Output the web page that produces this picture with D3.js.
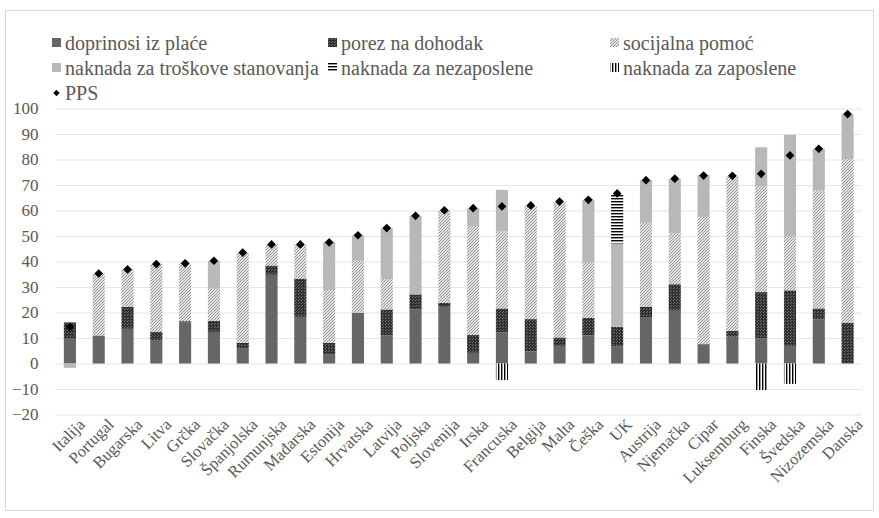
<!DOCTYPE html>
<html>
<head>
<meta charset="utf-8">
<script src="https://cdn.jsdelivr.net/npm/d3@7"></script>
<style>
  html, body { margin: 0; padding: 0; background: #fff; }
  svg { display: block; }
  svg text { font-family: "Liberation Serif", "Times New Roman", Tinos, "Noto Serif", "DejaVu Serif", serif !important; }
</style>
</head>
<body>
<svg id="chart" width="879" height="518"></svg>
<script>
// Countries along the x axis
const countries = ["Italija", "Portugal", "Bugarska", "Litva", "Grčka", "Slovačka", "Španjolska",
  "Rumunjska", "Mađarska", "Estonija", "Hrvatska", "Latvija", "Poljska", "Slovenija", "Irska",
  "Francuska", "Belgija", "Malta", "Češka", "UK", "Austrija", "Njemačka", "Cipar", "Luksemburg",
  "Finska", "Švedska", "Nizozemska", "Danska"];

// Components of net income (stacked bars)
const doprinosi   = [10, 11, 13.6, 9.2, 16.1, 12.4, 6.1, 34.8, 18.3, 3.7, 19.9, 11, 21.3, 22.2, 4.2, 12.2, 4.8, 6.9, 11, 6.8, 18.2, 20.7, 7.6, 10.5, 9.9, 6.9, 17.3, 0];
const porez       = [6.1, 0, 8.6, 3.2, 0.5, 4.3, 2.0, 3.6, 15, 4.4, 0, 10.2, 5.8, 1.6, 7.0, 9.4, 12.6, 3.3, 6.9, 7.6, 4.0, 10.4, 0, 2.3, 18.1, 21.8, 4.3, 16];
const socijalna   = [0, 24.3, 14.9, 26.6, 22.6, 12.6, 35.3, 8.3, 13.4, 20.7, 20.4, 11.9, 0, 36.3, 42.7, 30.3, 44.4, 53.2, 21.6, 0, 33, 19.9, 49.9, 60.7, 41.6, 21, 46.4, 64.2];
const stanovanje  = [-1.7, 0, 0, 0, 0, 11, 0, 0, 0, 18.9, 10, 20, 30.8, 0, 7, 16.2, 0, 0, 24.7, 32.7, 16.7, 21.5, 16.4, 0, 15.2, 40, 16.2, 17.6];
const nezaposlene = [0, 0, 0, 0, 0, 0, 0, 0, 0, 0, 0, 0, 0, 0, 0, 0, 0, 0, 0, 19.2, 0, 0, 0, 0, 0, 0, 0, 0];
const zaposlene   = [0, 0, 0, 0, 0, 0, 0, 0, 0, 0, 0, 0, 0, 0, 0, -6.5, 0, 0, 0, 0, 0, 0, 0, 0, -10.4, -8, 0, 0];
const pps         = [14.4, 35.3, 36.9, 39, 39.3, 40.3, 43.5, 46.7, 46.7, 47.5, 50.3, 53.1, 57.9, 60.1, 60.9, 61.6, 62, 63.5, 64.2, 66.7, 71.9, 72.5, 73.7, 73.6, 74.4, 81.6, 84.2, 97.8];

const seriesNames = ["doprinosi iz plaće", "porez na dohodak", "socijalna pomoć",
  "naknada za troškove stanovanja", "naknada za nezaposlene", "naknada za zaposlene"];
const seriesValues = [doprinosi, porez, socijalna, stanovanje, nezaposlene, zaposlene];
const yTicks = [-20, -10, 0, 10, 20, 30, 40, 50, 60, 70, 80, 90, 100];

const svg = d3.select("#chart");

// Fill patterns for the series
const defs = svg.append("defs");
function pattern(id, w, h, bg, draw) {
  const p = defs.append("pattern").attr("id", id).attr("patternUnits", "userSpaceOnUse")
    .attr("width", w).attr("height", h);
  p.append("rect").attr("width", w).attr("height", h).attr("fill", bg);
  draw(p);
}
pattern("pPorez", 3, 3, "#2f2f2f", p => {
  p.append("rect").attr("x", 1).attr("y", 0).attr("width", 1).attr("height", 1).attr("fill", "#7a7a7a");
  p.append("rect").attr("x", 2).attr("y", 2).attr("width", 1).attr("height", 1).attr("fill", "#6a6a6a");
});
pattern("pSoc", 3, 3, "#e4e4e4", p => {
  p.append("path").attr("d", "M-1,1 L1,-1 M0,3 L3,0 M2,4 L4,2").attr("stroke", "#949494").attr("stroke-width", 1);
});
pattern("pNez", 4, 3, "#ffffff", p => {
  p.append("rect").attr("x", 0).attr("y", 0).attr("width", 4).attr("height", 1.4).attr("fill", "#000");
});
pattern("pZap", 3, 4, "#ffffff", p => {
  p.append("rect").attr("x", 0).attr("y", 0).attr("width", 1.4).attr("height", 4).attr("fill", "#000");
});
const fills = ["#666666", "url(#pPorez)", "url(#pSoc)", "#b8b8b8", "url(#pNez)", "url(#pZap)"];

// Outer chart frame
svg.append("rect").attr("x", 5.5).attr("y", 10.5).attr("width", 868).attr("height", 500)
  .attr("fill", "none").attr("stroke", "#d9d9d9");

const x = d3.scaleBand().domain(countries).range([55.5, 862]).paddingInner(0.58).paddingOuter(0.29);
const y = d3.scaleLinear().domain([-20, 100]).range([414.5, 108.5]);

// Gridlines + y labels
const yAxis = d3.axisLeft(y).tickValues(yTicks).tickSize(-(862 - 55.5)).tickPadding(17).tickFormat(d3.format("d"));
const gy = svg.append("g").attr("transform", "translate(55.5,0)").call(yAxis);
gy.select(".domain").remove();
gy.selectAll(".tick line").attr("stroke", "#e6e6e6").attr("stroke-width", 1.2);
gy.selectAll(".tick text").attr("fill", "#595959").attr("font-size", 17);

// Stacked bars (positive up, negative down)
const rows = countries.map((c, i) => {
  const r = { country: c };
  seriesNames.forEach((s, k) => r[s] = seriesValues[k][i]);
  return r;
});
const stacked = d3.stack().keys(seriesNames).offset(d3.stackOffsetDiverging)(rows);

svg.append("g").selectAll("g").data(stacked).join("g")
  .attr("fill", (d, k) => fills[k])
  .selectAll("rect").data(d => d.filter(s => s[1] !== s[0])).join("rect")
  .attr("x", d => x(d.data.country))
  .attr("width", x.bandwidth())
  .attr("y", d => y(Math.max(d[0], d[1])))
  .attr("height", d => Math.abs(y(d[0]) - y(d[1])));

// PPS markers
const diamond = d3.symbol(d3.symbolSquare, 38);
svg.append("g").selectAll("path").data(pps).join("path")
  .attr("d", diamond)
  .attr("fill", "#000")
  .attr("transform", (v, i) => `translate(${x(countries[i]) + x.bandwidth() / 2},${y(v)}) rotate(45)`);

// Rotated country labels
const xAxis = d3.axisBottom(x).tickSize(0).tickPadding(0);
const gx = svg.append("g").attr("transform", "translate(0,414.5)").call(xAxis);
gx.select(".domain").remove();
gx.selectAll(".tick text")
  .attr("fill", "#595959").attr("font-size", 16.5)
  .attr("text-anchor", "end").attr("dy", 0).attr("y", 0)
  .attr("transform", "translate(16,11) rotate(-45)");

// Legend
const legendPos = [[52, 43], [328, 43], [610, 43], [52, 68], [328, 68], [610, 68]];
const lg = svg.append("g");
seriesNames.forEach((s, k) => {
  const [lx, ly] = legendPos[k];
  lg.append("rect").attr("x", lx).attr("y", ly - 5).attr("width", 9).attr("height", 9).attr("fill", fills[k]);
  lg.append("text").attr("x", lx + 13).attr("y", ly).attr("dy", "0.35em")
    .attr("fill", "#595959").attr("font-size", 20).text(s);
});
lg.append("path").attr("d", d3.symbol(d3.symbolSquare, 20))
  .attr("transform", "translate(56.5,93) rotate(45)").attr("fill", "#000");
lg.append("text").attr("x", 65).attr("y", 93).attr("dy", "0.35em")
  .attr("fill", "#595959").attr("font-size", 20).text("PPS");
</script>
</body>
</html>
